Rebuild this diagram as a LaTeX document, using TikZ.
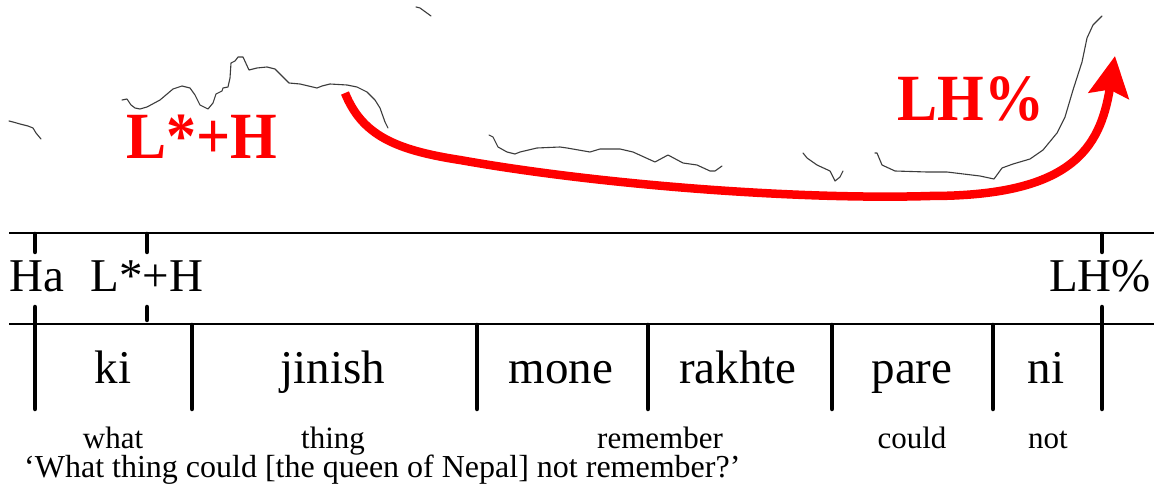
\documentclass[tikz,border=0pt]{standalone}
\usepackage{fontspec}
\setmainfont{Liberation Serif}
\usetikzlibrary{arrows.meta}
\definecolor{pitchgray}{RGB}{60,60,60}
\definecolor{arrowred}{RGB}{255,0,0}
\tikzset{
  pitch/.style={draw=pitchgray, line width=1.1pt, line join=round, line cap=round},
  tierline/.style={draw=black, line width=1.1pt},
  bar/.style={draw=black, line width=4.5pt, line cap=round},
  tiertext/.style={anchor=base, inner sep=0pt, font=\fontsize{47}{50}\selectfont},
  glosstext/.style={anchor=base, inner sep=0pt, font=\fontsize{31}{34}\selectfont},
  transtext/.style={anchor=base west, inner sep=0pt, font=\fontsize{32}{35}\selectfont},
  redlabel/.style={anchor=base, inner sep=0pt, text=arrowred, font=\fontsize{60}{64}\selectfont\bfseries, yscale=1.1},
  redarrow/.style={draw=arrowred, line width=8.5pt, -{Stealth[length=40pt, width=40pt, inset=6pt]}}
}
\begin{document}
\begin{tikzpicture}[x=1pt, y=-1pt]
\useasboundingbox (0,0) rectangle (1154,494);
\fill[white] (0,0) rectangle (1154,494);

% pitch track
\draw[pitch] (9,121) -- (13,122) -- (20,124) -- (28,126) -- (33,128) -- (36,133) -- (41,139);
\draw[pitch] (122,100) -- (127,99) -- (131,105) -- (135,108) -- (140,109) -- (147,107) -- (160,100) -- (173,89) -- (182,86) -- (190,88) -- (195,95) -- (200,105) -- (208,109) -- (213,103) -- (216,94) -- (222,91) -- (223,88) -- (228,87) -- (230,78) -- (231,63) -- (235,61) -- (238,57) -- (243,57) -- (249,70) -- (257,68) -- (267,67) -- (275,69) -- (283,77) -- (289,83) -- (300,84) -- (317,88) -- (322,86) -- (330,84) -- (347,85) -- (357,87) -- (367,92) -- (375,100) -- (380,108) -- (385,122) -- (388,128);
\draw[pitch] (416,7) -- (420,8) -- (431,16);
\draw[pitch] (489,135) -- (493,137) -- (498,147) -- (507,152) -- (515,154) -- (520,152) -- (537,148) -- (560,147) -- (567,148) -- (590,152) -- (600,149) -- (620,149) -- (633,152) -- (655,162) -- (668,155) -- (683,163) -- (697,165) -- (710,171) -- (715,171) -- (722,166);
\draw[pitch] (803,153) -- (807,158) -- (817,165) -- (830,171) -- (835,181) -- (840,177) -- (843,171);
\draw[pitch] (875,153) -- (877,153) -- (882,165) -- (895,171) -- (927,172) -- (947,172) -- (980,176) -- (994,179) -- (1002,168) -- (1013,164) -- (1030,159) -- (1043,150) -- (1057,133) -- (1065,117) -- (1073,90) -- (1082,62) -- (1087,38) -- (1093,25) -- (1102,16);

% red labels and arrow
\node[redlabel] (lstarh) at (202,159) {L*+H};
\node[redlabel] (lhpct) at (971,121) {LH\%};
\coordinate (arrowstart) at (345,93);
\coordinate (arrowmidA) at (460,160);
\coordinate (arrowmidB) at (930,196);
\coordinate (arrowend) at (1115,56);
\draw[redarrow] (arrowstart) .. controls (362,135) and (395,150) .. (arrowmidA)
  .. controls (600,185) and (800,200) .. (arrowmidB)
  .. controls (1070,196) and (1100,150) .. (arrowend);

% tier lines
\coordinate (t1l) at (9,233);
\coordinate (t1r) at (1154,233);
\coordinate (t2l) at (9,324);
\coordinate (t2r) at (1154,324);
\draw[tierline] (t1l) -- (t1r);
\draw[tierline] (t2l) -- (t2r);

% tone tier bars
\draw[bar] (35,234) -- (35,252);
\draw[bar] (35,307) -- (35,409);
\draw[bar] (147,234) -- (147,252);
\draw[bar] (147,307) -- (147,320);
\draw[bar] (1102,234) -- (1102,252);
\draw[bar] (1102,307) -- (1102,409);
% word boundaries
\foreach \bx in {192,477,648,832,993}
  \draw[bar] (\bx,325) -- (\bx,409);

% tone labels
\node[tiertext] (ha) at (37,292) {Ha};
\node[tiertext] (lh) at (147,292) {L*+H};
\node[tiertext] (lhb) at (1100,292) {LH\%};

% words
\node[tiertext] (ki) at (113,383) {ki};
\node[tiertext] (jinish) at (333,383) {jinish};
\node[tiertext] (mone) at (561,383) {mone};
\node[tiertext] (rakhte) at (738,383) {rakhte};
\node[tiertext] (pare) at (912,383) {pare};
\node[tiertext] (ni) at (1046,383) {ni};

% glosses
\node[glosstext] (gwhat) at (113,448) {what};
\node[glosstext] (gthing) at (333,448) {thing};
\node[glosstext] (gremember) at (660,448) {remember};
\node[glosstext] (gcould) at (912,448) {could};
\node[glosstext] (gnot) at (1048,448) {not};

% translation
\node[transtext] (transl) at (24,477) {‘What thing could [the queen of Nepal] not remember?’};
\end{tikzpicture}
\end{document}
